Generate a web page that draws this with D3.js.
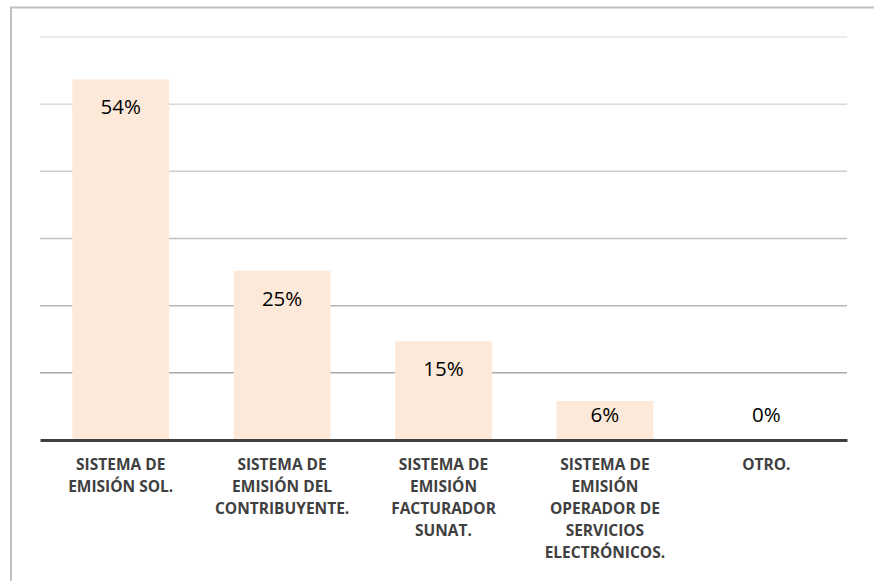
<!DOCTYPE html>
<html><head><meta charset="utf-8">
<script src="https://cdn.jsdelivr.net/npm/d3@7"></script>
<style>body{margin:0;background:#fff}</style>
</head><body>
<svg id="chart" width="874" height="581"></svg>
<script>
const categories = ["SISTEMA DE EMISIÓN SOL.", "SISTEMA DE EMISIÓN DEL CONTRIBUYENTE.", "SISTEMA DE EMISIÓN FACTURADOR SUNAT.", "SISTEMA DE EMISIÓN OPERADOR DE SERVICIOS ELECTRÓNICOS.", "OTRO."];
const values = [53.7, 25.2, 14.7, 5.8, 0];
const labels = ["54%", "25%", "15%", "6%", "0%"];
const gridTicks = [10, 20, 30, 40, 50, 60];

const svg = d3.select("#chart");
const W = 874, H = 581;
const m = {left: 40, right: 27, top: 37, bottom: 141};
const x = d3.scaleBand().domain(categories).range([m.left, W - m.right]).paddingInner(0.4).paddingOuter(0.2);
const y = d3.scaleLinear().domain([0, 60]).range([H - m.bottom, m.top]);

// outer border
svg.append("rect").attr("x", 11).attr("y", 7.5).attr("width", 900).attr("height", 700)
  .attr("fill", "none").attr("stroke", "#bfbfbf").attr("stroke-width", 2);

const gridColor = d3.scaleLinear().domain([10, 60]).range(["#a9a9a9", "#e6e6e6"]);
svg.append("g").selectAll("line").data(gridTicks).join("line")
  .attr("x1", m.left).attr("x2", W - m.right)
  .attr("y1", d => y(d)).attr("y2", d => y(d))
  .attr("stroke", d => gridColor(d)).attr("stroke-width", 1.5);

svg.append("g").selectAll("rect").data(values).join("rect")
  .attr("x", (d, i) => x(categories[i]))
  .attr("width", x.bandwidth())
  .attr("y", d => y(d))
  .attr("height", d => y(0) - y(d))
  .attr("fill", "#fde9d9");

// axis
const axis = svg.append("g").attr("transform", `translate(0,${y(0)})`)
  .call(d3.axisBottom(x).tickSize(0).tickFormat(""));
axis.select(".domain").attr("stroke", "#404040").attr("stroke-width", 3);

svg.append("g").selectAll("text").data(values).join("text")
  .attr("x", (d, i) => x(categories[i]) + x.bandwidth() / 2)
  .attr("y", d => Math.min(y(d) + 28, y(0) - 25))
  .attr("dy", "0.35em")
  .attr("text-anchor", "middle")
  .attr("font-family", "'Open Sans', sans-serif")
  .attr("font-size", 20.5)
  .attr("fill", "#000")
  .text((d, i) => labels[i]);

// category labels with wrapping
const maxW = 140;
svg.append("g").selectAll("text").data(categories).join("text")
  .attr("x", d => x(d) + x.bandwidth() / 2)
  .attr("y", 465)
  .attr("text-anchor", "middle")
  .attr("font-family", "'Open Sans', sans-serif")
  .attr("font-weight", "bold")
  .attr("font-size", 15.5)
  .attr("fill", "#404040")
  .each(function(d) {
    const t = d3.select(this);
    const words = d.split(" ");
    let line = [], lines = [];
    const tmp = t.append("tspan");
    words.forEach(w => {
      const test = line.concat([w]).join(" ");
      tmp.text(test);
      if (tmp.node().getComputedTextLength() > maxW && line.length) {
        lines.push(line.join(" ")); line = [w];
      } else line.push(w);
    });
    lines.push(line.join(" "));
    tmp.remove();
    lines.forEach((l, i) => {
      t.append("tspan").attr("x", x(d) + x.bandwidth() / 2).attr("dy", i === 0 ? "0.35em" : 22).text(l);
    });
  });
</script>
</body></html>
